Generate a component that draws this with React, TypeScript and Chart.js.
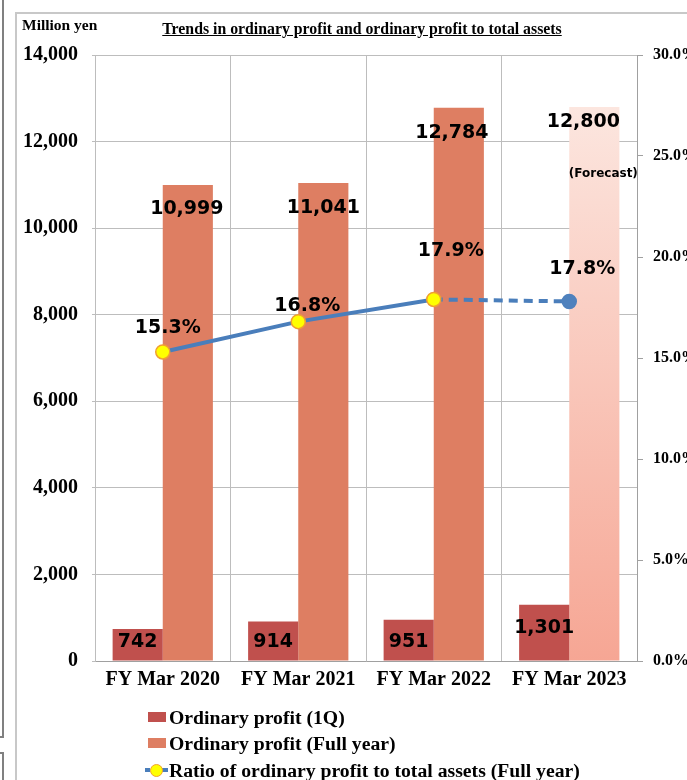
import React, { useEffect, useRef } from "react";
import { Chart, registerables } from "chart.js";

Chart.register(...registerables);

const categories = ["FY Mar 2020", "FY Mar 2021", "FY Mar 2022", "FY Mar 2023"];
const profit1Q = [742, 914, 951, 1301];
const profitFull = [10999, 11041, 12784, 12800];
const ratioPct = [15.3, 16.8, 17.9, 17.8];
const leftTicks = [0, 2000, 4000, 6000, 8000, 10000, 12000, 14000];
const rightTicks = [0, 5, 10, 15, 20, 25, 30];
const forecastIndex = 3;

const seriesLabels = [
  "Ordinary profit (1Q)",
  "Ordinary profit (Full year)",
  "Ratio of ordinary profit to total assets (Full year)",
];

const C1Q = "#c0504d";
const CFULL = "#de7e62";
const CLINE = "#4a7ebb";
const SERIF = '"Liberation Serif", "Times New Roman", serif';
const SANS = '"DejaVu Sans", Verdana, sans-serif';
const GRID = "#bdbdbd";

const fmt = (v: number) => v.toLocaleString("en-US");

const fullOffsets = [
  [-1, 24],
  [0, 25],
  [-7, 25],
  [-11, 15],
];
const pctOffsets = [
  [5, -24],
  [9, -16],
  [17, -48],
  [13, -32],
];

const labelPlugin = {
  id: "valueLabels",
  afterDatasetsDraw(chart: any) {
    const ctx = chart.ctx;
    ctx.save();
    ctx.fillStyle = "#000";
    ctx.textAlign = "center";
    ctx.textBaseline = "middle";
    ctx.font = `bold 19px ${SANS}`;
    const m0 = chart.getDatasetMeta(0);
    m0.data.forEach((el: any, i: number) => {
      const y = Math.min(el.y + 23, el.base - 18);
      ctx.fillText(fmt(profit1Q[i]), el.x, y);
    });
    const m1 = chart.getDatasetMeta(1);
    m1.data.forEach((el: any, i: number) => {
      const [dx, dy] = fullOffsets[i];
      ctx.font = `bold 19px ${SANS}`;
      ctx.fillText(fmt(profitFull[i]), el.x + dx, el.y + dy);
      if (i === forecastIndex) {
        ctx.font = `bold 12px ${SANS}`;
        ctx.fillText("(Forecast)", el.x + 9, el.y + 67);
      }
    });
    const m2 = chart.getDatasetMeta(2);
    ctx.font = `bold 19px ${SANS}`;
    m2.data.forEach((el: any, i: number) => {
      const [dx, dy] = pctOffsets[i];
      ctx.fillText(ratioPct[i].toFixed(1) + "%", el.x + dx, el.y + dy);
    });
    ctx.restore();
  },
};

export default function App() {
  const ref = useRef<HTMLCanvasElement | null>(null);

  useEffect(() => {
    if (!ref.current) return;
    const chart = new Chart(ref.current, {
      type: "bar",
      data: {
        labels: categories,
        datasets: [
          {
            type: "bar",
            label: seriesLabels[0],
            data: profit1Q,
            backgroundColor: C1Q,
            yAxisID: "y",
            order: 1,
            categoryPercentage: 0.74,
            barPercentage: 1,
          },
          {
            type: "bar",
            label: seriesLabels[1],
            data: profitFull,
            backgroundColor: (c: any) => {
              if (c.dataIndex !== forecastIndex) return CFULL;
              const ch = c.chart;
              const area = ch.chartArea;
              if (!area || !ch.scales.y) return "#f8b8a8";
              const top = ch.scales.y.getPixelForValue(profitFull[forecastIndex]);
              const g = ch.ctx.createLinearGradient(0, top, 0, area.bottom);
              g.addColorStop(0, "#fce6df");
              g.addColorStop(1, "#f6a694");
              return g;
            },
            yAxisID: "y",
            order: 2,
            categoryPercentage: 0.74,
            barPercentage: 1,
          },
          {
            type: "line",
            label: seriesLabels[2],
            data: ratioPct,
            yAxisID: "y1",
            order: 0,
            borderColor: CLINE,
            borderWidth: 4,
            tension: 0,
            segment: {
              borderDash: (c: any) => (c.p1DataIndex === forecastIndex ? [9, 6] : undefined),
            },
            pointRadius: 7,
            pointBackgroundColor: ratioPct.map((_, i) => (i === forecastIndex ? "#4f81bd" : "#ffff00")),
            pointBorderColor: ratioPct.map((_, i) => (i === forecastIndex ? "#4f81bd" : "#f0a030")),
            pointBorderWidth: 1.5,
          } as any,
        ],
      },
      options: {
        responsive: false,
        animation: false,
        layout: { padding: { top: 55, left: 0, right: 0, bottom: 0 } },
        plugins: {
          legend: { display: false },
          title: { display: false },
          tooltip: { enabled: false },
        },
        scales: {
          x: {
            offset: true,
            grid: { offset: true, color: GRID, drawTicks: false },
            border: { color: "#a0a0a0" },
            ticks: {
              color: "#000",
              padding: 7,
              font: { family: SERIF, size: 20, weight: "bold" },
            },
            afterFit: (s: any) => {
              s.height = 119;
            },
          },
          y: {
            position: "left",
            min: 0,
            max: 14000,
            afterBuildTicks: (s: any) => {
              s.ticks = leftTicks.map((v) => ({ value: v }));
            },
            ticks: {
              color: "#000",
              padding: 14,
              font: { family: SERIF, size: 20, weight: "bold" },
              callback: (v: any) => fmt(Number(v)),
            },
            grid: { color: GRID, tickLength: 3 },
            border: { color: GRID },
            afterFit: (s: any) => {
              s.width = 95;
            },
          },
          y1: {
            position: "right",
            min: 0,
            max: 30,
            afterBuildTicks: (s: any) => {
              s.ticks = rightTicks.map((v) => ({ value: v }));
            },
            ticks: {
              color: "#000",
              padding: 10,
              font: { family: SERIF, size: 16, weight: "bold" },
              callback: (v: any) => Number(v).toFixed(1) + "%",
            },
            grid: { drawOnChartArea: false, color: "#a0a0a0", tickLength: 6 },
            border: { color: "#a0a0a0" },
            afterFit: (s: any) => {
              s.width = 50;
            },
          },
        },
      } as any,
      plugins: [labelPlugin],
    });
    return () => chart.destroy();
  }, []);

  const legendText: React.CSSProperties = {
    position: "absolute",
    left: 169,
    fontFamily: SERIF,
    fontWeight: "bold",
    fontSize: 19.7,
    lineHeight: "22px",
    color: "#000",
    whiteSpace: "nowrap",
  };

  return (
    <div
      style={{
        position: "fixed",
        left: 0,
        top: 0,
        width: 687,
        height: 780,
        background: "#fff",
        overflow: "hidden",
      }}
    >
      <canvas ref={ref} width={687} height={780} style={{ position: "absolute", left: 0, top: 0, width: 687, height: 780 }} />
      {/* frames */}
      <div style={{ position: "absolute", left: 2, top: 0, width: 2, height: 738, background: "#808080" }} />
      <div style={{ position: "absolute", left: 0, top: 736, width: 4, height: 2, background: "#808080" }} />
      <div style={{ position: "absolute", left: 0, top: 752, width: 4, height: 2, background: "#808080" }} />
      <div style={{ position: "absolute", left: 2, top: 752, width: 2, height: 28, background: "#808080" }} />
      <div style={{ position: "absolute", left: 15, top: 12, width: 2, height: 768, background: "#c8c8c8" }} />
      <div style={{ position: "absolute", left: 15, top: 12, width: 672, height: 2, background: "#c8c8c8" }} />
      {/* titles */}
      <div
        style={{
          position: "absolute",
          left: 22,
          top: 15,
          fontFamily: SERIF,
          fontWeight: "bold",
          fontSize: 15.5,
          lineHeight: "19px",
          whiteSpace: "nowrap",
        }}
      >
        Million yen
      </div>
      <div
        style={{
          position: "absolute",
          left: 142,
          width: 440,
          top: 19,
          textAlign: "center",
          fontFamily: SERIF,
          fontWeight: "bold",
          fontSize: 15.8,
          lineHeight: "20px",
          textDecoration: "underline",
          whiteSpace: "nowrap",
        }}
      >
        Trends in ordinary profit and ordinary profit to total assets
      </div>
      {/* legend */}
      <div style={{ position: "absolute", left: 148, top: 712, width: 18, height: 10, background: C1Q }} />
      <div style={{ ...legendText, top: 706 }}>{seriesLabels[0]}</div>
      <div style={{ position: "absolute", left: 148, top: 738, width: 18, height: 10, background: CFULL }} />
      <div style={{ ...legendText, top: 732 }}>{seriesLabels[1]}</div>
      <div style={{ position: "absolute", left: 145, top: 768, width: 5, height: 4, background: CLINE }} />
      <div style={{ position: "absolute", left: 162, top: 768, width: 6, height: 4, background: CLINE }} />
      <div
        style={{
          position: "absolute",
          left: 150,
          top: 764,
          width: 11,
          height: 11,
          borderRadius: "50%",
          background: "#ffff00",
          border: "1px solid #f0a030",
        }}
      />
      <div style={{ ...legendText, top: 759 }}>{seriesLabels[2]}</div>
    </div>
  );
}
